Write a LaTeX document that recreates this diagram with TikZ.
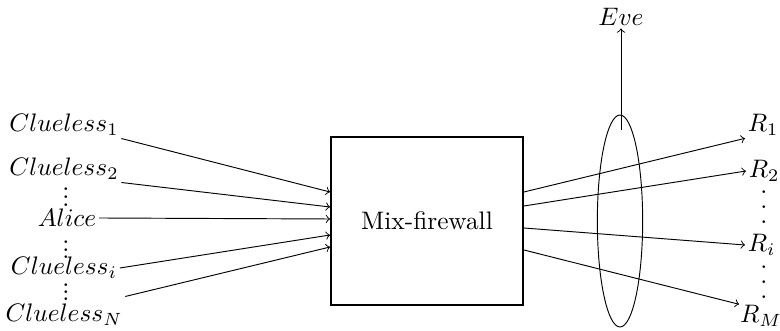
\documentclass[tikz,border=0pt]{standalone}
\usepackage{fix-cm}
\usetikzlibrary{shapes.geometric, calc}

\tikzset{
  flow/.style={->, thin},
  party/.style={inner sep=1pt},
  dot/.style={inner sep=0pt},
}

\begin{document}
\begin{tikzpicture}[x=0.015cm, y=-0.015cm, every node/.style={font=\fontsize{10.8}{13}\selectfont}]
\useasboundingbox (0, 0) rectangle (780, 331);

\node[rectangle, draw, thick, minimum width=2.88cm, minimum height=2.52cm] (fw) at (427, 221) {Mix-firewall};
\node[ellipse, draw, thin, inner sep=0pt, minimum width=0.68cm, minimum height=3.18cm] (tap) at (620, 221) {};

% senders
\node[party] (c1) at (64, 125) {$Clueless_1$};
\node[party] (c2) at (64, 169) {$Clueless_2$};
\node[party] (alice) at (67, 218) {$Alice$};
\node[party] (ci) at (64, 268) {$Clueless_i$};
\node[party] (cN) at (64, 315) {$Clueless_N$};
\foreach \y in {189, 197, 205, 242, 250, 257, 285, 292, 299}
  \node[dot] at (66, \y) {.};

% receivers
\node[party, anchor=west] (r1) at (745, 125) {$R_1$};
\node[party, anchor=west] (r2) at (746, 171) {$R_2$};
\node[party, anchor=west] (ri) at (745, 245) {$R_i$};
\node[party, anchor=west, inner sep=0.3pt] (rM) at (739, 316) {$R_M$};
\foreach \y in {192, 207, 222, 267, 282, 297}
  \node[dot] at (764, \y) {.};

\node[party] (eve) at (621, 17) {$Eve$};
\coordinate (tapin) at (621, 130);

\draw[flow] (c1.south east) -- ($(fw.west)+(0, -29)$);
\draw[flow] (c2.south east) -- ($(fw.west)+(0, -14)$);
\draw[flow] (alice.east) -- ($(fw.west)+(0, -2)$);
\draw[flow] (ci.east) -- ($(fw.west)+(0, 14)$);
\draw[flow] ($(cN.north east)+(0, -5)$) -- ($(fw.west)+(0, 26)$);

\draw[flow] ($(fw.east)+(0, -29)$) -- (r1.south west);
\draw[flow] ($(fw.east)+(0, -15)$) -- (r2.west);
\draw[flow] ($(fw.east)+(0, 7)$) -- (ri.west);
\draw[flow] ($(fw.east)+(0, 29)$) -- (rM.north west);

\draw[flow] (tapin) -- (eve.south);
\end{tikzpicture}
\end{document}
